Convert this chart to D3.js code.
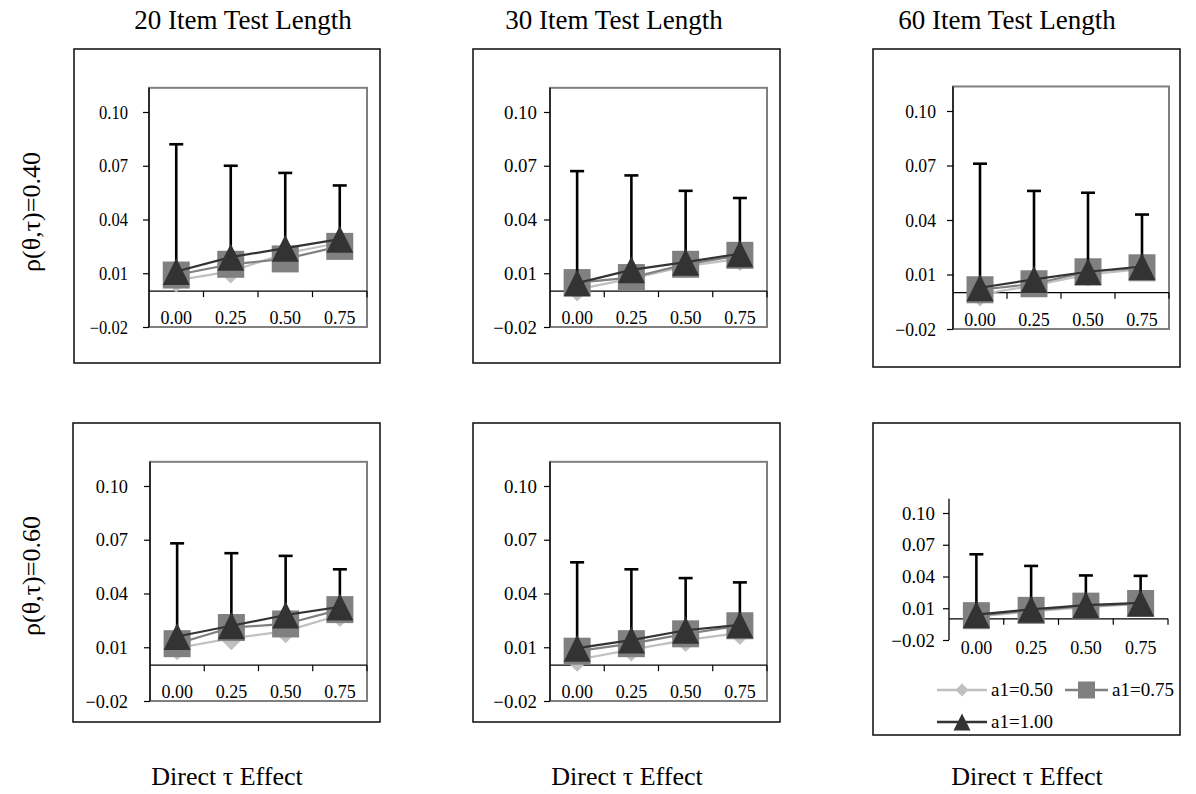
<!DOCTYPE html>
<html>
<head>
<meta charset="utf-8">
<script src="https://cdn.jsdelivr.net/npm/d3@7"></script>
<style>
  html, body { margin: 0; padding: 0; background: #fff; }
  svg { display: block; }
  text { font-family: "Liberation Serif", "Times New Roman", serif; fill: #000; }
</style>
</head>
<body>
<svg id="chart" width="1196" height="794"></svg>
<script>
// Categories on the x axis (direct tau effect)
const categories = ["0.00", "0.25", "0.50", "0.75"];
const seriesNames = ["a1=0.50", "a1=0.75", "a1=1.00"];
const testLengths = ["20 Item Test Length", "30 Item Test Length", "60 Item Test Length"];
const correlations = ["ρ(θ,τ)=0.40", "ρ(θ,τ)=0.60"];
const xTitle = "Direct τ Effect";
const yTicks = [-0.02, 0.01, 0.04, 0.07, 0.10];

// Values indexed [row: ρ=0.40, ρ=0.60][column: 20, 30, 60 items][category]
const a1_050 = [
  [[0.006, 0.011, 0.021, 0.027], [0.001, 0.007, 0.014, 0.018], [-0.001, 0.004, 0.010, 0.013]],
  [[0.0095, 0.015, 0.019, 0.028], [0.003, 0.0087, 0.014, 0.018], [0.002, 0.007, 0.011, 0.014]]
];
const a1_075 = [
  [[0.009, 0.015, 0.018, 0.025], [0.0048, 0.0076, 0.015, 0.020], [0.0016, 0.0049, 0.0115, 0.0137]],
  [[0.012, 0.021, 0.023, 0.031], [0.0078, 0.012, 0.0175, 0.022], [0.003, 0.008, 0.012, 0.0145]]
];
const a1_100 = [
  [[0.011, 0.019, 0.024, 0.029], [0.0045, 0.0119, 0.0162, 0.0209], [0.0027, 0.0073, 0.0115, 0.0144]],
  [[0.016, 0.022, 0.028, 0.0325], [0.0095, 0.014, 0.0195, 0.0225], [0.004, 0.009, 0.013, 0.015]]
];
// Upper end of the error bars drawn on the a1=1.00 series
const a1_100_upper = [
  [[0.082, 0.070, 0.066, 0.059], [0.067, 0.0646, 0.056, 0.052], [0.071, 0.056, 0.055, 0.043]],
  [[0.068, 0.0625, 0.061, 0.0535], [0.0574, 0.0535, 0.0486, 0.0462], [0.061, 0.050, 0.041, 0.0406]]
];

const Y_MIN = -0.02, Y_TICK_TOP = 0.10, Y_MAX = 0.1135;

// Panel geometry: outer box, plot x-extent, pixel rows of -0.02 and 0.10
const panelLayout = [
  [
    { box: [74, 49, 380, 363], plot: [149, 367], y0: 327, y10: 112, frame: true, lblScale: 0.92, lblGap: 21 },
    { box: [473, 49, 780, 363], plot: [550, 767], y0: 327, y10: 112, frame: true, lblScale: 1.05, lblGap: 13 },
    { box: [873, 49, 1180, 367], plot: [953, 1169], y0: 329, y10: 111, frame: true, lblScale: 0.98, lblGap: 17 }
  ],
  [
    { box: [73, 423, 380, 722], plot: [150, 367], y0: 701, y10: 486, frame: true, lblScale: 1.02, lblGap: 22 },
    { box: [473, 423, 780, 722], plot: [550, 767], y0: 701, y10: 486, frame: true, lblScale: 1.05, lblGap: 13 },
    { box: [873, 423, 1180, 735], plot: [949, 1168], y0: 640, y10: 513, frame: false, lblScale: 1.05, lblGap: 14, xLabelY: 654 }
  ]
];

const styles = [
  { line: "#c0c0c0", fill: "#c0c0c0", shape: "diamond" },
  { line: "#808080", fill: "#808080", shape: "square" },
  { line: "#333333", fill: "#333333", shape: "triangle" }
];

function markerPath(shape, s) {
  if (shape === "square") return `M${-s / 2},${-s / 2}h${s}v${s}h${-s}Z`;
  if (shape === "diamond") { const r = s / 2; return `M0,${-r}L${r},0L0,${r}L${-r},0Z`; }
  const h = s;
  return `M0,${-h / 2}L${s / 2},${h / 2}L${-s / 2},${h / 2}Z`;
}
const markerSize = { diamond: 24, square: 27, triangle: 27 };

const svg = d3.select("#chart");
const fmt = d3.format(".2f");

function drawPanel(r, c) {
  const L = panelLayout[r][c];
  const g = svg.append("g");

  // outer chart box
  g.append("rect")
    .attr("x", L.box[0]).attr("y", L.box[1])
    .attr("width", L.box[2] - L.box[0]).attr("height", L.box[3] - L.box[1])
    .attr("fill", "#fff").attr("stroke", "#1a1a1a").attr("stroke-width", 1.6);

  const y = d3.scaleLinear().domain([Y_MIN, Y_TICK_TOP]).range([L.y0, L.y10]);
  const x = d3.scaleBand().domain(categories).range(L.plot).padding(0);
  const cx = d => x(d) + x.bandwidth() / 2;
  const yTop = y(Y_MAX);

  if (L.frame) {
    g.append("rect")
      .attr("x", L.plot[0]).attr("y", yTop)
      .attr("width", L.plot[1] - L.plot[0]).attr("height", L.y0 - yTop)
      .attr("fill", "#fff").attr("stroke", "#808080").attr("stroke-width", 2);
  }

  // y axis
  const yAxis = g.append("g").attr("transform", `translate(${L.plot[0]},0)`)
    .call(d3.axisLeft(y).tickValues(yTicks).tickSize(6).tickSizeOuter(0).tickFormat(fmt));
  yAxis.select(".domain").remove();
  yAxis.selectAll(".tick line").attr("stroke", "#000").attr("stroke-width", 1.2);
  yAxis.selectAll(".tick text")
    .attr("x", 0).attr("dy", "0.34em")
    .attr("transform", `translate(${-L.lblGap},0) scale(${L.lblScale},1)`)
    .attr("text-anchor", "end")
    .style("font-family", '"Liberation Serif", "Times New Roman", serif')
    .style("font-size", "18px").attr("fill", "#000");
  g.append("line")
    .attr("x1", L.plot[0]).attr("x2", L.plot[0])
    .attr("y1", yTop).attr("y2", L.y0)
    .attr("stroke", "#000").attr("stroke-width", 1.3);

  // category axis along zero
  const y0 = y(0);
  g.append("line")
    .attr("x1", L.plot[0]).attr("x2", L.plot[1])
    .attr("y1", y0).attr("y2", y0)
    .attr("stroke", "#000").attr("stroke-width", 1.3);
  g.selectAll(".cat-tick").data(categories).join("line")
    .attr("x1", d => x(d) + x.bandwidth()).attr("x2", d => x(d) + x.bandwidth())
    .attr("y1", y0).attr("y2", y0 + 6)
    .attr("stroke", "#000").attr("stroke-width", 1.2);
  const labelY = L.xLabelY !== undefined ? L.xLabelY : L.y0 - 3;
  g.selectAll(".cat-label").data(categories).join("text")
    .attr("x", d => cx(d)).attr("y", labelY)
    .attr("text-anchor", "middle")
    .style("font-size", "18px")
    .text(d => d);

  const seriesData = [a1_050[r][c], a1_075[r][c], a1_100[r][c]];
  const line = d3.line().x((d, i) => cx(categories[i])).y(d => y(d));

  seriesData.forEach((vals, si) => {
    const st = styles[si];
    g.append("path").datum(vals)
      .attr("d", line)
      .attr("fill", "none").attr("stroke", st.line).attr("stroke-width", 2.2);

    if (si === 2) {
      // error bars on a1=1.00
      const up = a1_100_upper[r][c];
      const eb = g.append("g");
      eb.selectAll("line.stem").data(vals).join("line")
        .attr("x1", (d, i) => cx(categories[i])).attr("x2", (d, i) => cx(categories[i]))
        .attr("y1", d => y(d)).attr("y2", (d, i) => y(up[i]))
        .attr("stroke", "#000").attr("stroke-width", 2.6);
      eb.selectAll("line.cap").data(up).join("line")
        .attr("x1", (d, i) => cx(categories[i]) - 7).attr("x2", (d, i) => cx(categories[i]) + 7)
        .attr("y1", d => y(d)).attr("y2", d => y(d))
        .attr("stroke", "#000").attr("stroke-width", 2.6);
    }

    g.selectAll(null).data(vals).join("path")
      .attr("transform", (d, i) => `translate(${cx(categories[i])},${y(d)})`)
      .attr("d", markerPath(st.shape, markerSize[st.shape]))
      .attr("fill", st.fill);
  });
}

for (let r = 0; r < 2; r++) for (let c = 0; c < 3; c++) drawPanel(r, c);

// column titles
const titleX = [243, 614, 1007];
svg.selectAll(".col-title").data(testLengths).join("text")
  .attr("x", (d, i) => titleX[i]).attr("y", 29)
  .attr("text-anchor", "middle").style("font-size", "27px")
  .text(d => d);

// x titles
const xTitleX = [227, 627, 1027];
svg.selectAll(".x-title").data(xTitleX).join("text")
  .attr("x", d => d).attr("y", 785)
  .attr("text-anchor", "middle").style("font-size", "26px")
  .text(xTitle);

// row titles
const rowY = [212, 576];
svg.selectAll(".row-title").data(correlations).join("text")
  .attr("transform", (d, i) => `translate(40,${rowY[i]}) rotate(-90)`)
  .attr("text-anchor", "middle").style("font-size", "26px")
  .text(d => d);

// legend inside the last panel
const legendItems = [
  { x: 937, y: 690, w: 50, size: 13 },
  { x: 1065, y: 690, w: 43, size: 17 },
  { x: 937, y: 722, w: 50, size: 17 }
];
const lg = svg.append("g");
legendItems.forEach((it, i) => {
  const st = styles[i];
  lg.append("line")
    .attr("x1", it.x).attr("x2", it.x + it.w).attr("y1", it.y).attr("y2", it.y)
    .attr("stroke", st.line).attr("stroke-width", 2.6);
  lg.append("path")
    .attr("transform", `translate(${it.x + it.w / 2},${it.y})`)
    .attr("d", markerPath(st.shape, it.size))
    .attr("fill", st.fill);
  lg.append("text")
    .attr("x", it.x + it.w + 4).attr("y", it.y + 6)
    .style("font-size", "19px")
    .text(seriesNames[i]);
});
</script>
</body>
</html>
